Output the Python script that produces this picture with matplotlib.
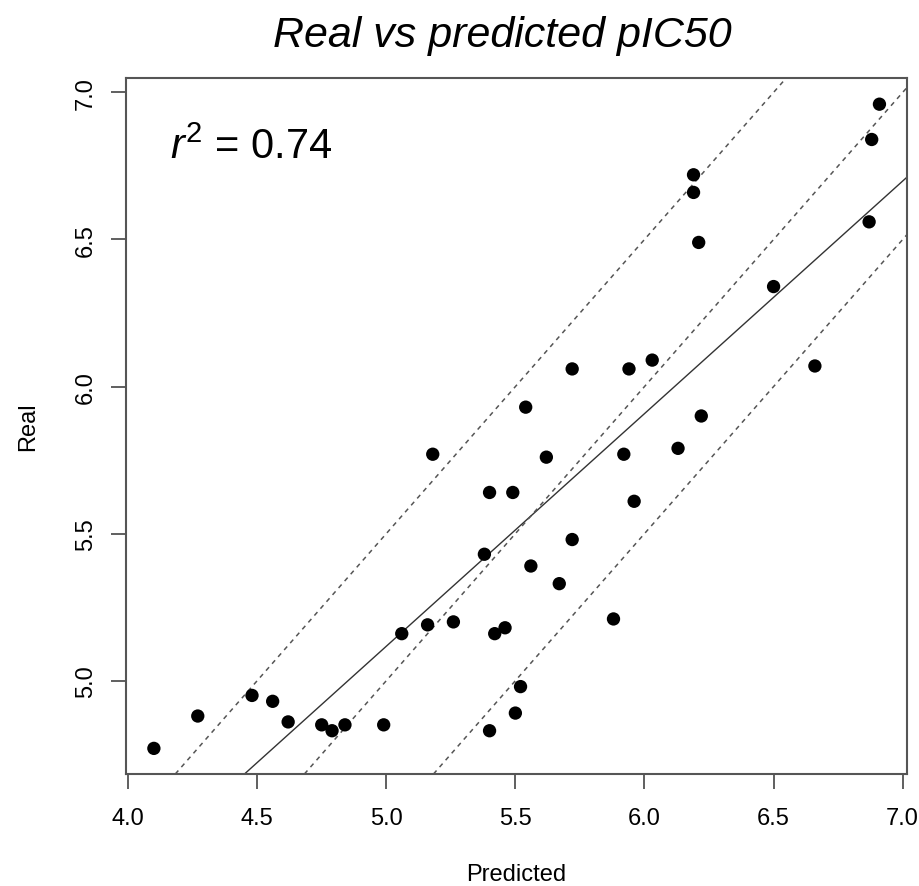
import matplotlib
matplotlib.use("Agg")
import matplotlib.pyplot as plt
import numpy as np

plt.rcParams['font.family'] = ['Liberation Sans', 'DejaVu Sans']
plt.rcParams['mathtext.fontset'] = 'custom'
plt.rcParams['mathtext.rm'] = 'Liberation Sans'
plt.rcParams['mathtext.it'] = 'Liberation Sans:italic'

# predicted vs measured pIC50
predicted = [4.10, 4.27, 4.48, 4.56, 4.62, 4.75, 4.79, 4.84, 4.99, 5.06,
             5.16, 5.26, 5.18, 5.40, 5.49, 5.38, 5.42, 5.46, 5.40, 5.50,
             5.52, 5.54, 5.62, 5.92, 6.13, 6.22, 5.96, 5.72, 5.56, 5.67,
             5.88, 6.91, 6.88, 6.19, 6.19, 6.21, 6.87, 6.50, 5.72, 5.94,
             6.03, 6.66]
real = [4.77, 4.88, 4.95, 4.93, 4.86, 4.85, 4.83, 4.85, 4.85, 5.16,
        5.19, 5.20, 5.77, 5.64, 5.64, 5.43, 5.16, 5.18, 4.83, 4.89,
        4.98, 5.93, 5.76, 5.77, 5.79, 5.90, 5.61, 5.48, 5.39, 5.33,
        5.21, 6.96, 6.84, 6.72, 6.66, 6.49, 6.56, 6.34, 6.06, 6.06,
        6.09, 6.07]
r2_label = 0.74
band = 0.5

x = np.array(predicted)
y = np.array(real)
slope, intercept = np.polyfit(x, y, 1)

fig = plt.figure(figsize=(9.19, 8.87), dpi=100)
ax = fig.add_axes([0.1371, 0.1263, 0.8502, 0.7843])

ax.scatter(x, y, s=92, c='black', edgecolors='none', zorder=3)

# least-squares fit plus the y = x +/- 0.5 band
ax.axline((0, intercept), slope=slope, color='#333333', lw=1.0)
for off in (-band, 0, band):
    ax.axline((0, off), slope=1, color='#555555', lw=1.1,
              linestyle=(0, (3, 3)))

ax.set_xlim(3.992, 7.018)
ax.set_ylim(4.683, 7.048)
ax.set_xticks([4.0, 4.5, 5.0, 5.5, 6.0, 6.5, 7.0])
ax.set_yticks([5.0, 5.5, 6.0, 6.5, 7.0])
ax.set_xticklabels(['4.0', '4.5', '5.0', '5.5', '6.0', '6.5', '7.0'])
ax.set_yticklabels(['5.0', '5.5', '6.0', '6.5', '7.0'], rotation=90,
                   va='center')
ax.tick_params(labelsize=17, length=11, width=1.2, color='#444444')
ax.tick_params(axis='x', pad=13)
ax.tick_params(axis='y', pad=10)
for sp in ax.spines.values():
    sp.set_color('#555555')
    sp.set_linewidth(1.5)

ax.set_xlabel('Predicted', fontsize=17, labelpad=24)
ax.set_ylabel('Real', fontsize=17, labelpad=26)

ax.text(4.163, 6.777, r'$\mathit{r}^{2}$ = %.2f' % r2_label, fontsize=30,
        va='baseline', ha='left')

fig.text(0.547, 0.947, 'Real vs predicted pIC50', fontsize=31,
         style='italic', ha='center', va='baseline')

fig.savefig('out.png', dpi=100)
